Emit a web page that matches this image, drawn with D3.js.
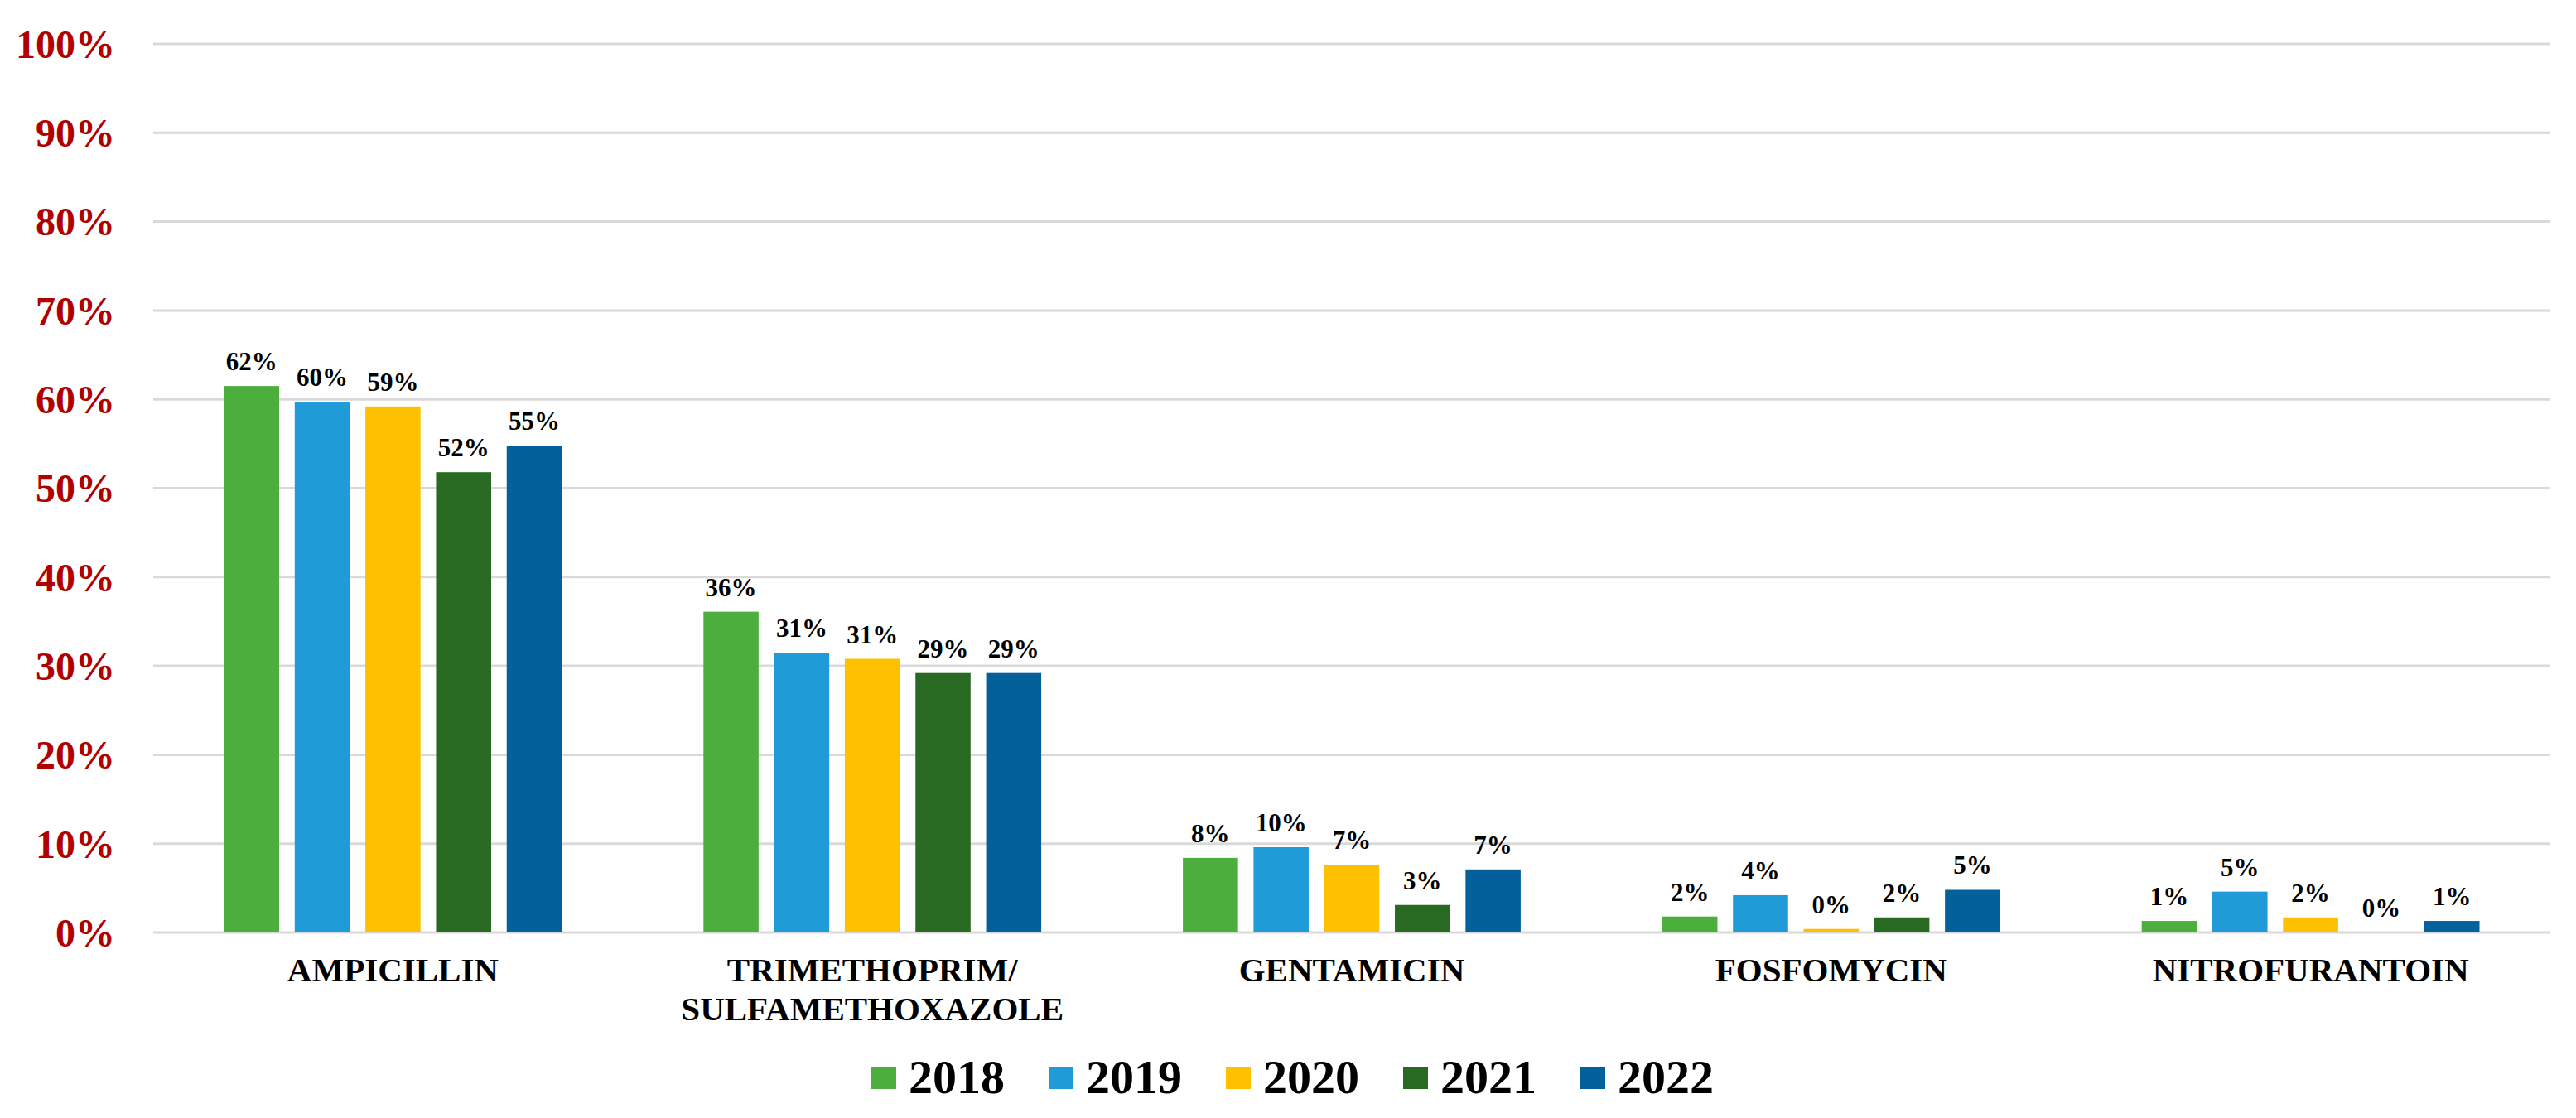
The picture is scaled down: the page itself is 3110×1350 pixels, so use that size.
<!DOCTYPE html>
<html>
<head>
<meta charset="utf-8">
<script src="https://cdn.jsdelivr.net/npm/d3@7"></script>
<style>
  html, body { margin: 0; padding: 0; background: #ffffff; }
  svg { display: block; }
</style>
</head>
<body>
<div id="chart"></div>
<script>
// ---- data ----
const categories = ["AMPICILLIN", "TRIMETHOPRIM/\nSULFAMETHOXAZOLE", "GENTAMICIN", "FOSFOMYCIN", "NITROFURANTOIN"];
const years = ["2018", "2019", "2020", "2021", "2022"];
const values2018 = [61.5, 36.1, 8.4, 1.8, 1.3];
const values2019 = [59.7, 31.5, 9.6, 4.2, 4.6];
const values2020 = [59.2, 30.8, 7.6, 0.4, 1.7];
const values2021 = [51.8, 29.2, 3.1, 1.7, 0.0];
const values2022 = [54.8, 29.2, 7.1, 4.8, 1.3];
const valueLabels2018 = ["62%", "36%", "8%", "2%", "1%"];
const valueLabels2019 = ["60%", "31%", "10%", "4%", "5%"];
const valueLabels2020 = ["59%", "31%", "7%", "0%", "2%"];
const valueLabels2021 = ["52%", "29%", "3%", "2%", "0%"];
const valueLabels2022 = ["55%", "29%", "7%", "5%", "1%"];
const yTicks = [0, 10, 20, 30, 40, 50, 60, 70, 80, 90, 100];
const colors = ["#4cae3c", "#1f9bd7", "#ffc000", "#296a23", "#03609a"];

const seriesValues = [values2018, values2019, values2020, values2021, values2022];
const seriesLabels = [valueLabels2018, valueLabels2019, valueLabels2020, valueLabels2021, valueLabels2022];

// ---- layout ----
const W = 3110, H = 1350;
const plotLeft = 185, plotRight = 3079, plotTop = 53, plotBottom = 1126;
const font = "'Liberation Serif', 'Times New Roman', serif";

const svg = d3.select("#chart").append("svg")
  .attr("width", W).attr("height", H)
  .attr("viewBox", `0 0 ${W} ${H}`);

const x0 = d3.scaleBand().domain(categories).range([plotLeft, plotRight])
  .paddingInner(0.263).paddingOuter(0.1315);
const x1 = d3.scaleBand().domain(years).range([0, x0.bandwidth()])
  .paddingInner(0.22).paddingOuter(0.11);
const y = d3.scaleLinear().domain([0, 100]).range([plotBottom, plotTop]);
const color = d3.scaleOrdinal().domain(years).range(colors);

// gridlines
svg.append("g").selectAll("line").data(yTicks).join("line")
  .attr("x1", plotLeft).attr("x2", plotRight)
  .attr("y1", d => y(d)).attr("y2", d => y(d))
  .attr("stroke", "#d9d9d9").attr("stroke-width", 3);

// y axis labels
const yAxis = d3.axisLeft(y).tickValues(yTicks).tickFormat(d => d + "%").tickSize(0).tickPadding(0);
const gy = svg.append("g").attr("transform", `translate(139,0)`).call(yAxis);
gy.select(".domain").remove();
gy.selectAll("text")
  .attr("font-family", font).attr("font-weight", "bold")
  .attr("font-size", 48).attr("fill", "#b00000")
  .attr("dy", "0.34em");

// bars
const groups = svg.append("g").selectAll("g").data(categories).join("g")
  .attr("transform", d => `translate(${x0(d)},0)`);

groups.each(function(cat, ci) {
  const g = d3.select(this);
  const data = years.map((yr, si) => ({ yr, v: seriesValues[si][ci], label: seriesLabels[si][ci] }));
  g.selectAll("rect").data(data).join("rect")
    .attr("x", d => x1(d.yr))
    .attr("y", d => y(d.v))
    .attr("width", x1.bandwidth())
    .attr("height", d => y(0) - y(d.v))
    .attr("fill", d => color(d.yr));
  g.selectAll("text").data(data).join("text")
    .attr("x", d => x1(d.yr) + x1.bandwidth() / 2)
    .attr("y", d => y(d.v) - 19)
    .attr("text-anchor", "middle")
    .attr("font-family", font).attr("font-weight", "bold")
    .attr("font-size", 31).attr("fill", "#000")
    .text(d => d.label);
});

// x axis category labels
const xAxis = d3.axisBottom(x0).tickSize(0).tickPadding(0).tickFormat("");
const gx = svg.append("g").attr("transform", `translate(0,${plotBottom})`).call(xAxis);
gx.select(".domain").remove();
gx.selectAll(".tick").each(function(d) {
  const t = d3.select(this).append("text")
    .attr("text-anchor", "middle")
    .attr("font-family", font).attr("font-weight", "bold")
    .attr("font-size", 41).attr("fill", "#000");
  d.split("\n").forEach((line, i) => {
    t.append("tspan").attr("x", 0).attr("y", 59 + i * 47).text(line);
  });
});

// legend
const legend = svg.append("g").attr("transform", "translate(1052,0)");
const items = legend.selectAll("g").data(years).join("g")
  .attr("transform", (d, i) => `translate(${i * 214},0)`);
items.append("rect")
  .attr("x", 0).attr("y", 1288).attr("width", 30).attr("height", 27)
  .attr("fill", d => color(d));
items.append("text")
  .attr("x", 45).attr("y", 1320)
  .attr("font-family", font).attr("font-weight", "bold")
  .attr("font-size", 58).attr("fill", "#000")
  .text(d => d);
</script>
</body>
</html>
